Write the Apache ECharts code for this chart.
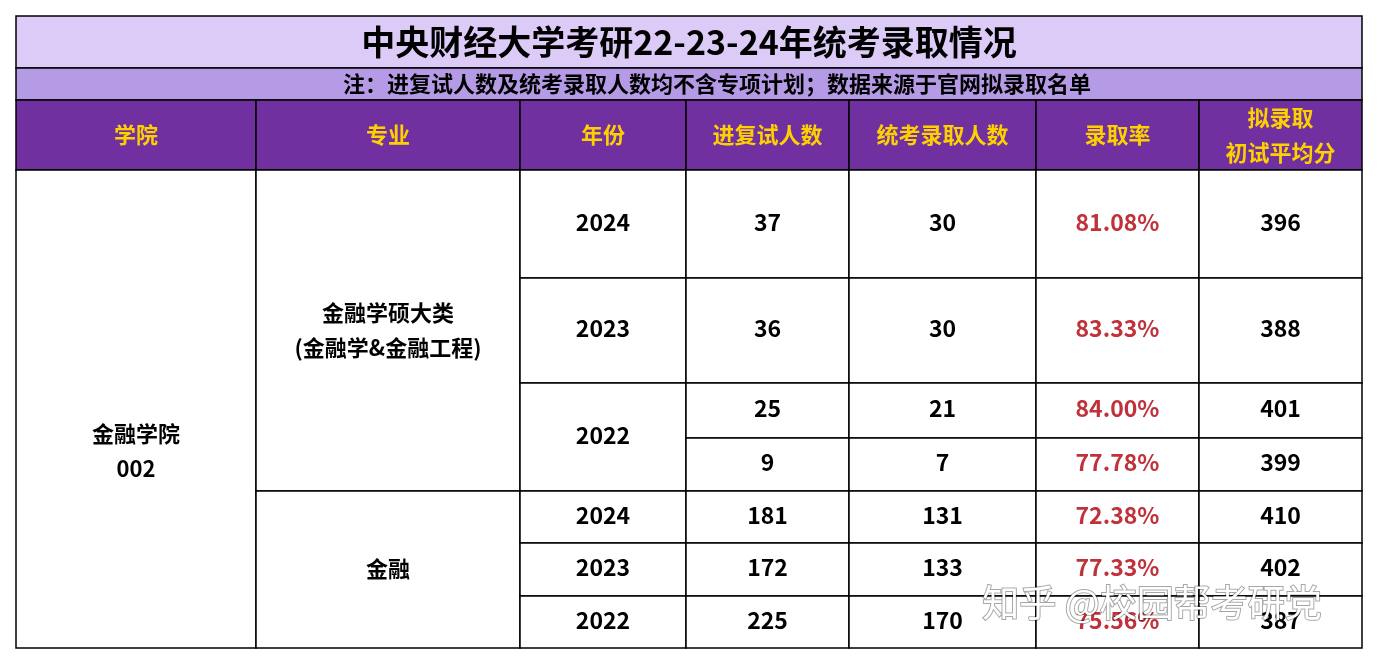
<!DOCTYPE html>
<html lang="zh">
<head>
<meta charset="UTF-8">
<title>中央财经大学考研录取情况</title>
<script src="https://cdn.jsdelivr.net/npm/echarts@6/dist/echarts.min.js"></script>
<style>html,body{margin:0;padding:0;background:#fff}</style>
</head>
<body>
<div id="main" style="width:1378px;height:664px;"></div>
<script>
var title = '中央财经大学考研22-23-24年统考录取情况';
var note = '注：进复试人数及统考录取人数均不含专项计划；数据来源于官网拟录取名单';
var headers = ['学院', '专业', '年份', '进复试人数', '统考录取人数', '录取率', '拟录取\n初试平均分'];
var years = ['2024', '2023', '2022', '2022', '2024', '2023', '2022'];
var retest = [37, 36, 25, 9, 181, 172, 225];
var admitted = [30, 30, 21, 7, 131, 133, 170];
var rates = ['81.08%', '83.33%', '84.00%', '77.78%', '72.38%', '77.33%', '75.56%'];
var avgScore = [396, 388, 401, 399, 410, 402, 387];

// layout
var colX = [16, 256, 520, 686, 849, 1036, 1199, 1362];
var rowY = [170, 278, 383, 438, 491, 543, 596, 648];
var font = '"Microsoft YaHei","Noto Sans CJK SC",sans-serif';
var els = [];

function rect(x1, y1, x2, y2, fill) {
  els.push({type: 'rect', shape: {x: x1, y: y1, width: x2 - x1, height: y2 - y1},
    style: {fill: fill, stroke: '#000', lineWidth: 1.5}});
}
function text(s, cx, cy, size, color) {
  els.push({type: 'text', x: cx, y: cy, z: 10,
    style: {text: s, fill: color || '#000', font: 'bold ' + size + 'px ' + font,
      align: 'center', verticalAlign: 'middle', lineHeight: size * 1.6}});
}

// title + note + header
rect(16, 16, 1362, 68, '#dccbf7');
text(title, 689, 42, 34);
rect(16, 68, 1362, 100, '#b59ae6');
text(note, 717, 84, 22);
for (var c = 0; c < 7; c++) {
  rect(colX[c], 100, colX[c + 1], 170, '#7030a0');
  text(headers[c], (colX[c] + colX[c + 1]) / 2, 135, 22, '#ffd000');
}

// merged cells
rect(colX[0], rowY[0], colX[1], rowY[7], '#fff');
text('金融学院\n002', (colX[0] + colX[1]) / 2, 451, 22);
rect(colX[1], rowY[0], colX[2], rowY[4], '#fff');
text('金融学硕大类\n(金融学&金融工程)', (colX[1] + colX[2]) / 2, 330, 22);
rect(colX[1], rowY[4], colX[2], rowY[7], '#fff');
text('金融', (colX[1] + colX[2]) / 2, 569, 22);

// year column (2022 first group merged)
for (var r = 0; r < 7; r++) {
  if (r === 3) continue;
  var y2 = r === 2 ? rowY[4] : rowY[r + 1];
  rect(colX[2], rowY[r], colX[3], y2, '#fff');
  text(years[r], (colX[2] + colX[3]) / 2, (rowY[r] + y2) / 2 - 2, 23);
}

var cols = [retest, admitted, rates, avgScore];
for (var r = 0; r < 7; r++) {
  for (var k = 0; k < 4; k++) {
    var c0 = colX[3 + k], c1 = colX[4 + k];
    rect(c0, rowY[r], c1, rowY[r + 1], '#fff');
    text(String(cols[k][r]), (c0 + c1) / 2, (rowY[r] + rowY[r + 1]) / 2 - 2, 23,
      k === 2 ? '#c0313a' : '#000');
  }
}

// watermark
els.push({type: 'text', x: 1152, y: 603, z: 20,
  style: {text: '知乎 @校园帮考研党', fill: '#ffffff', font: '37px ' + font,
    align: 'center', verticalAlign: 'middle', stroke: 'rgba(0,0,0,0.35)', lineWidth: 2}});

var chart = echarts.init(document.getElementById('main'));
chart.setOption({animation: false, graphic: {elements: els}});
</script>
</body>
</html>
